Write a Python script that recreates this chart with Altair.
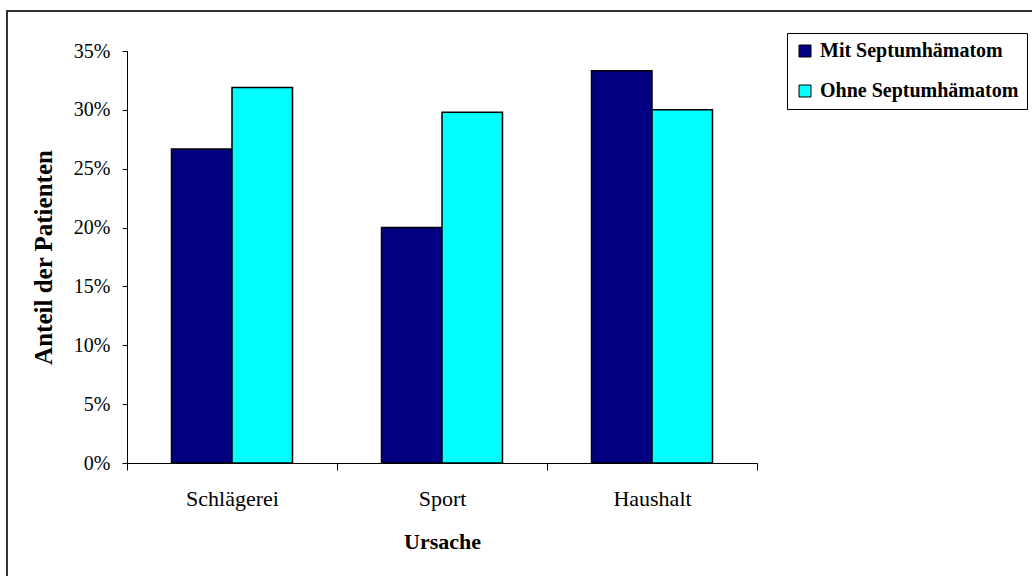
import altair as alt
import pandas as pd

# Ursache der Verletzung und Anteil der Patienten je Gruppe
ursachen = ["Schlägerei", "Sport", "Haushalt"]
gruppen = ["Mit Septumhämatom", "Ohne Septumhämatom"]
mit_septum = [0.2667, 0.2000, 0.3333]
ohne_septum = [0.319, 0.298, 0.300]
farben = ["#000080", "#00FFFF"]
y_ticks = [0, 0.05, 0.10, 0.15, 0.20, 0.25, 0.30, 0.35]

rows = []
for i, u in enumerate(ursachen):
    rows.append({"Ursache": u, "Gruppe": gruppen[0], "Anteil": mit_septum[i]})
    rows.append({"Ursache": u, "Gruppe": gruppen[1], "Anteil": ohne_septum[i]})
df = pd.DataFrame(rows)

SERIF = "Liberation Serif"

bars = alt.Chart(df).mark_bar(stroke="black", strokeWidth=1.5).encode(
    x=alt.X(
        "Ursache:N",
        sort=ursachen,
        scale=alt.Scale(paddingInner=0, paddingOuter=0),
        axis=alt.Axis(
            title="Ursache",
            labelAngle=0,
            tickBand="extent",
            tickSize=7,
            labelPadding=18,
            labelFontSize=22,
            titleFontSize=22,
            titleY=68,
            titleBaseline="top",
        ),
    ),
    xOffset=alt.XOffset(
        "Gruppe:N",
        sort=gruppen,
        scale=alt.Scale(paddingInner=0, paddingOuter=0.7355),
    ),
    y=alt.Y(
        "Anteil:Q",
        scale=alt.Scale(domain=[0, 0.35], nice=False),
        axis=alt.Axis(
            title="Anteil der Patienten",
            values=y_ticks,
            format=".0%",
            tickSize=5,
            labelPadding=12,
            labelFontSize=20,
            titleFontSize=25,
            titleX=-84,
            titleBaseline="middle",
        ),
    ),
    color=alt.Color(
        "Gruppe:N",
        sort=gruppen,
        scale=alt.Scale(domain=gruppen, range=farben),
        legend=alt.Legend(
            title=None,
            orient="none",
            legendX=660,
            legendY=-18,
            fillColor="white",
            strokeColor="black",
            padding=8,
            rowPadding=20,
            symbolType="square",
            symbolSize=144,
            symbolStrokeColor="black",
            symbolStrokeWidth=1,
            symbolOpacity=1,
            labelFont=SERIF,
            labelFontSize=20,
            labelFontWeight="bold",
            labelOffset=5,
            labelLimit=400,
        ),
    ),
)

# Rahmen um die Grafik (links und oben)
frame_left = alt.Chart(df).mark_rule(color="#333333", strokeWidth=2).encode(
    x=alt.value(-120), y=alt.value(-41), y2=alt.value(540)
)
frame_top = alt.Chart(df).mark_rule(color="#333333", strokeWidth=2).encode(
    x=alt.value(-121), x2=alt.value(920), y=alt.value(-40)
)

chart = (
    alt.layer(bars, frame_left, frame_top)
    .properties(
        width=630,
        height=412,
        autosize=alt.AutoSizeParams(type="none"),
        padding={"left": 127, "top": 51, "right": 275, "bottom": 113},
        background="white",
    )
    .configure_view(stroke="transparent")
    .configure_axis(
        labelFont=SERIF,
        titleFont=SERIF,
        titleFontWeight="bold",
        labelColor="black",
        titleColor="black",
        domainColor="black",
        tickColor="black",
        domainWidth=1,
        tickWidth=1,
        grid=False,
    )
)

chart.save("out.html", embed_options={"renderer": "svg", "actions": False})
